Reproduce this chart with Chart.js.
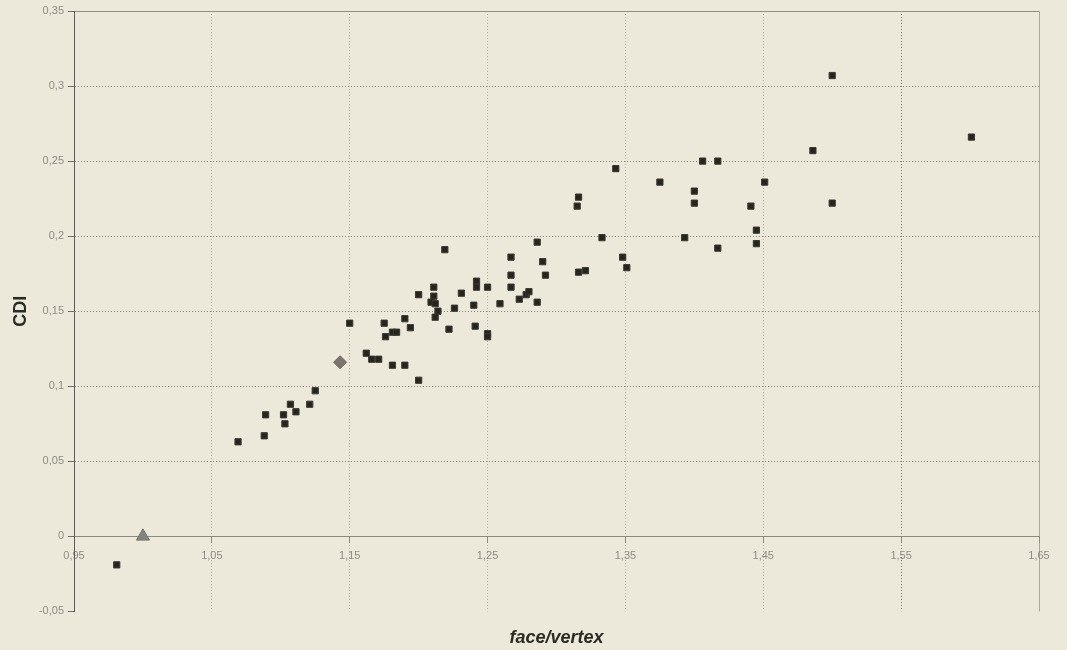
<!DOCTYPE html>
<html>
<head>
<meta charset="utf-8">
<title>CDI vs face/vertex</title>
<script src="https://cdn.jsdelivr.net/npm/chart.js@4/dist/chart.umd.min.js"></script>
<style>
  html, body { margin: 0; padding: 0; background: #ece9da; }
  canvas { display: block; }
</style>
</head>
<body>
<canvas id="scatter" width="1067" height="650"></canvas>
<script>
// values
const faceVertex = [
    0.981, 1.069, 1.088, 1.089, 1.102, 1.103, 1.107, 1.111, 1.121, 1.125,
    1.150, 1.162, 1.166, 1.171, 1.175, 1.176, 1.181, 1.184, 1.181, 1.190,
    1.190, 1.194, 1.200, 1.200, 1.211, 1.211, 1.209, 1.212, 1.214, 1.212,
    1.219, 1.222, 1.226, 1.231, 1.240, 1.241, 1.242, 1.242, 1.250, 1.250,
    1.250, 1.259, 1.267, 1.267, 1.267, 1.273, 1.278, 1.280, 1.286, 1.286,
    1.290, 1.292, 1.316, 1.315, 1.316, 1.321, 1.333, 1.343, 1.348, 1.351,
    1.375, 1.393, 1.400, 1.400, 1.406, 1.417, 1.417, 1.441, 1.445, 1.445,
    1.451, 1.486, 1.500, 1.500, 1.601
];
const cdi = [
    -0.019, 0.063, 0.067, 0.081, 0.081, 0.075, 0.088, 0.083, 0.088, 0.097,
    0.142, 0.122, 0.118, 0.118, 0.142, 0.133, 0.136, 0.136, 0.114, 0.114,
    0.145, 0.139, 0.104, 0.161, 0.166, 0.160, 0.156, 0.155, 0.150, 0.146,
    0.191, 0.138, 0.152, 0.162, 0.154, 0.140, 0.170, 0.166, 0.166, 0.135,
    0.133, 0.155, 0.186, 0.174, 0.166, 0.158, 0.161, 0.163, 0.196, 0.156,
    0.183, 0.174, 0.226, 0.220, 0.176, 0.177, 0.199, 0.245, 0.186, 0.179,
    0.236, 0.199, 0.230, 0.222, 0.250, 0.250, 0.192, 0.220, 0.204, 0.195,
    0.236, 0.257, 0.307, 0.222, 0.266
];
const triangleX = [1.0];
const triangleY = [0.0];
const diamondX = [1.143];
const diamondY = [0.116];

const xTicks = [0.95, 1.05, 1.15, 1.25, 1.35, 1.45, 1.55, 1.65];
const yTicks = [-0.05, 0, 0.05, 0.1, 0.15, 0.2, 0.25, 0.3, 0.35];

const toPoints = (xs, ys) => xs.map((x, i) => ({ x: x, y: ys[i] }));
const fmt = v => String(Number(v.toFixed(2))).replace('.', ',');
const near = (a, b) => Math.abs(a - b) < 1e-6;

const tickFont = { family: "'Liberation Sans', Arial, sans-serif", size: 11 };

new Chart(document.getElementById('scatter'), {
    type: 'scatter',
    data: {
        datasets: [
            {
                data: toPoints(faceVertex, cdi),
                pointStyle: 'rect',
                pointRadius: 4.4,
                backgroundColor: '#26261f',
                borderColor: '#3a3a33',
                borderWidth: 1
            },
            {
                data: toPoints(diamondX, diamondY),
                pointStyle: 'rectRot',
                pointRadius: 6.5,
                backgroundColor: '#7b746e',
                borderColor: '#6c6560',
                borderWidth: 1
            },
            {
                data: toPoints(triangleX, triangleY),
                pointStyle: 'triangle',
                pointRadius: 7.5,
                backgroundColor: '#86857d',
                borderColor: '#75746c',
                borderWidth: 1
            }
        ]
    },
    options: {
        responsive: false,
        animation: false,
        events: [],
        layout: { padding: { top: 11, right: 28, bottom: 0, left: 0 } },
        plugins: {
            legend: { display: false },
            tooltip: { enabled: false },
            title: {
                display: true,
                position: 'bottom',
                fullSize: false,
                text: 'face/vertex',
                color: '#2a2a26',
                font: { family: "'Liberation Sans', Arial, sans-serif", size: 18, weight: 'bold', style: 'italic' },
                padding: { top: 16, bottom: 1 }
            }
        },
        scales: {
            x: {
                type: 'linear',
                position: { y: 0 },
                min: 0.95,
                max: 1.65,
                afterBuildTicks: s => { s.ticks = xTicks.map(v => ({ value: v })); },
                grid: {
                    color: c => {
                        if (!c.tick) return '#999';
                        const v = c.tick.value;
                        if (near(v, 0.95)) return 'rgba(0,0,0,0)';
                        if (near(v, 1.65)) return '#a9a79d';
                        if (near(v, 1.55)) return '#7a7a74';
                        return '#b3b1a6';
                    },
                    tickLength: 6,
                    tickColor: '#8a8a84'
                },
                border: {
                    color: '#8a8a84',
                    width: 1,
                    dash: c => (c.tick && !near(c.tick.value, 1.65)) ? [1, 2] : []
                },
                ticks: {
                    color: '#8e8d86',
                    font: tickFont,
                    padding: 7,
                    maxRotation: 0,
                    callback: v => fmt(v)
                }
            },
            y: {
                type: 'linear',
                min: -0.05,
                max: 0.35,
                afterBuildTicks: s => { s.ticks = yTicks.map(v => ({ value: v })); },
                afterFit: s => { s.width = 74; },
                grid: {
                    color: c => {
                        if (!c.tick) return '#888';
                        const v = c.tick.value;
                        if (near(v, 0) || near(v, -0.05)) return 'rgba(0,0,0,0)';
                        if (near(v, 0.35)) return '#8f8e86';
                        return '#85847d';
                    },
                    tickLength: 6,
                    tickColor: '#6f6f69'
                },
                border: {
                    color: '#5c5c56',
                    width: 1,
                    dash: c => (c.tick && !near(c.tick.value, 0.35)) ? [1, 2] : []
                },
                title: {
                    display: true,
                    text: 'CDI',
                    color: '#2a2a26',
                    font: { family: "'Liberation Sans', Arial, sans-serif", size: 18, weight: 'bold' },
                    padding: { top: 10, bottom: 0 }
                },
                ticks: {
                    color: '#8e8d86',
                    font: tickFont,
                    padding: 4,
                    callback: v => fmt(v)
                }
            }
        }
    }
});
</script>
</body>
</html>
